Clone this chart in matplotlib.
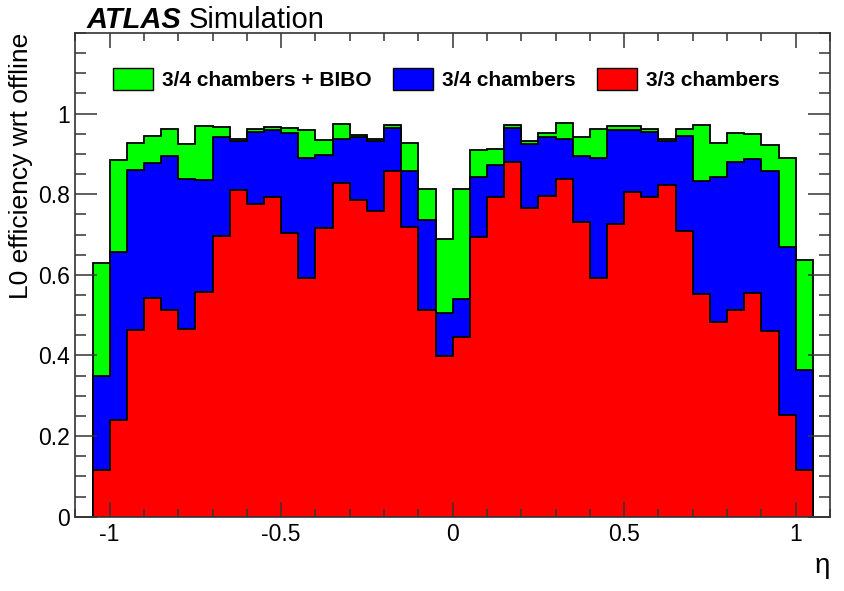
#!/usr/bin/env python3

import numpy as np
import matplotlib
matplotlib.use("Agg")
import matplotlib.pyplot as plt
from matplotlib.patches import Patch
from matplotlib.ticker import MultipleLocator, FuncFormatter

plt.rcParams["font.family"] = ["Liberation Sans", "DejaVu Sans"]

# 42 eta bins of width 0.05 between -1.05 and 1.05
eta_edges = np.round(np.arange(-1.05, 1.0501, 0.05), 3)

eff_34_bibo = [0.630, 0.886, 0.927, 0.945, 0.962, 0.924, 0.970, 0.966, 0.938, 0.961,
               0.966, 0.965, 0.959, 0.934, 0.974, 0.947, 0.937, 0.972, 0.927, 0.814,
               0.688, 0.814, 0.910, 0.912, 0.972, 0.931, 0.951, 0.976, 0.941, 0.961,
               0.970, 0.970, 0.963, 0.938, 0.963, 0.971, 0.928, 0.951, 0.949, 0.922,
               0.891, 0.638]
eff_34 = [0.348, 0.656, 0.860, 0.877, 0.895, 0.838, 0.835, 0.942, 0.931, 0.955,
          0.959, 0.953, 0.891, 0.898, 0.937, 0.941, 0.931, 0.964, 0.858, 0.736,
          0.506, 0.539, 0.842, 0.872, 0.964, 0.924, 0.941, 0.938, 0.895, 0.889,
          0.959, 0.960, 0.955, 0.932, 0.945, 0.833, 0.842, 0.880, 0.887, 0.858,
          0.668, 0.363]
eff_33 = [0.116, 0.241, 0.462, 0.542, 0.512, 0.465, 0.557, 0.697, 0.810, 0.776,
          0.794, 0.705, 0.591, 0.716, 0.829, 0.786, 0.759, 0.858, 0.718, 0.514,
          0.399, 0.446, 0.693, 0.792, 0.881, 0.765, 0.796, 0.838, 0.731, 0.593,
          0.725, 0.806, 0.792, 0.823, 0.710, 0.553, 0.483, 0.512, 0.555, 0.460,
          0.253, 0.117]

labels = ["3/4 chambers + BIBO", "3/4 chambers", "3/3 chambers"]
colors = ["#00ff00", "#0000ff", "#ff0000"]

fig = plt.figure(figsize=(8.45, 5.91), dpi=100)
ax = fig.add_axes([0.0892, 0.1257, 0.8930, 0.8185])

# overlaid histograms, loosest selection drawn first
for vals, color in zip((eff_34_bibo, eff_34, eff_33), colors):
    ax.stairs(vals, eta_edges, fill=True, facecolor=color, edgecolor="black",
              linewidth=1.3, baseline=0)

ax.set_xlim(-1.1, 1.1)
ax.set_ylim(0, 1.2)

ax.xaxis.set_major_locator(MultipleLocator(0.5))
ax.xaxis.set_minor_locator(MultipleLocator(0.1))
ax.set_yticks([0, 0.2, 0.4, 0.6, 0.8, 1.0])
ax.yaxis.set_minor_locator(MultipleLocator(0.05))
fmt = FuncFormatter(lambda v, pos: "%g" % round(v, 3))
ax.xaxis.set_major_formatter(fmt)
ax.yaxis.set_major_formatter(fmt)

ax.tick_params(which="both", direction="in", top=True, right=True,
               labelsize=16.5, width=1.1, color="#333333")
ax.tick_params(axis="x", which="major", length=11, pad=4.5)
ax.tick_params(axis="x", which="minor", length=5.5)
ax.tick_params(axis="y", which="major", length=16, pad=4)
ax.tick_params(axis="y", which="minor", length=8)
for sp in ax.spines.values():
    sp.set_linewidth(1.2)
    sp.set_color("#333333")

ax.set_xlabel("η", fontsize=20, loc="right")
ax.xaxis.set_label_coords(1.0, -0.075)
fig.text(0.011, 1 - 33 / 591, "L0 efficiency wrt offline", rotation=90,
         ha="left", va="top", fontsize=19)

handles = [Patch(facecolor=c, edgecolor="black", linewidth=1.0) for c in colors]
ax.legend(handles, labels, ncol=3, frameon=False, loc="center left",
          bbox_to_anchor=(0.05, 0.905), borderaxespad=0, borderpad=0,
          prop={"weight": "bold", "size": 15}, handlelength=1.92,
          handleheight=1.25, handletextpad=0.45, columnspacing=1.0)

atlas = fig.text(0.103, 1 - 28 / 591, "ATLAS", fontsize=21,
                 fontweight="bold", fontstyle="italic", va="baseline")
ax.annotate("Simulation", xy=(1, 0), xycoords=atlas, xytext=(5, 0),
            textcoords="offset points", fontsize=21, va="bottom",
            annotation_clip=False)

fig.savefig("out.png", dpi=100)
